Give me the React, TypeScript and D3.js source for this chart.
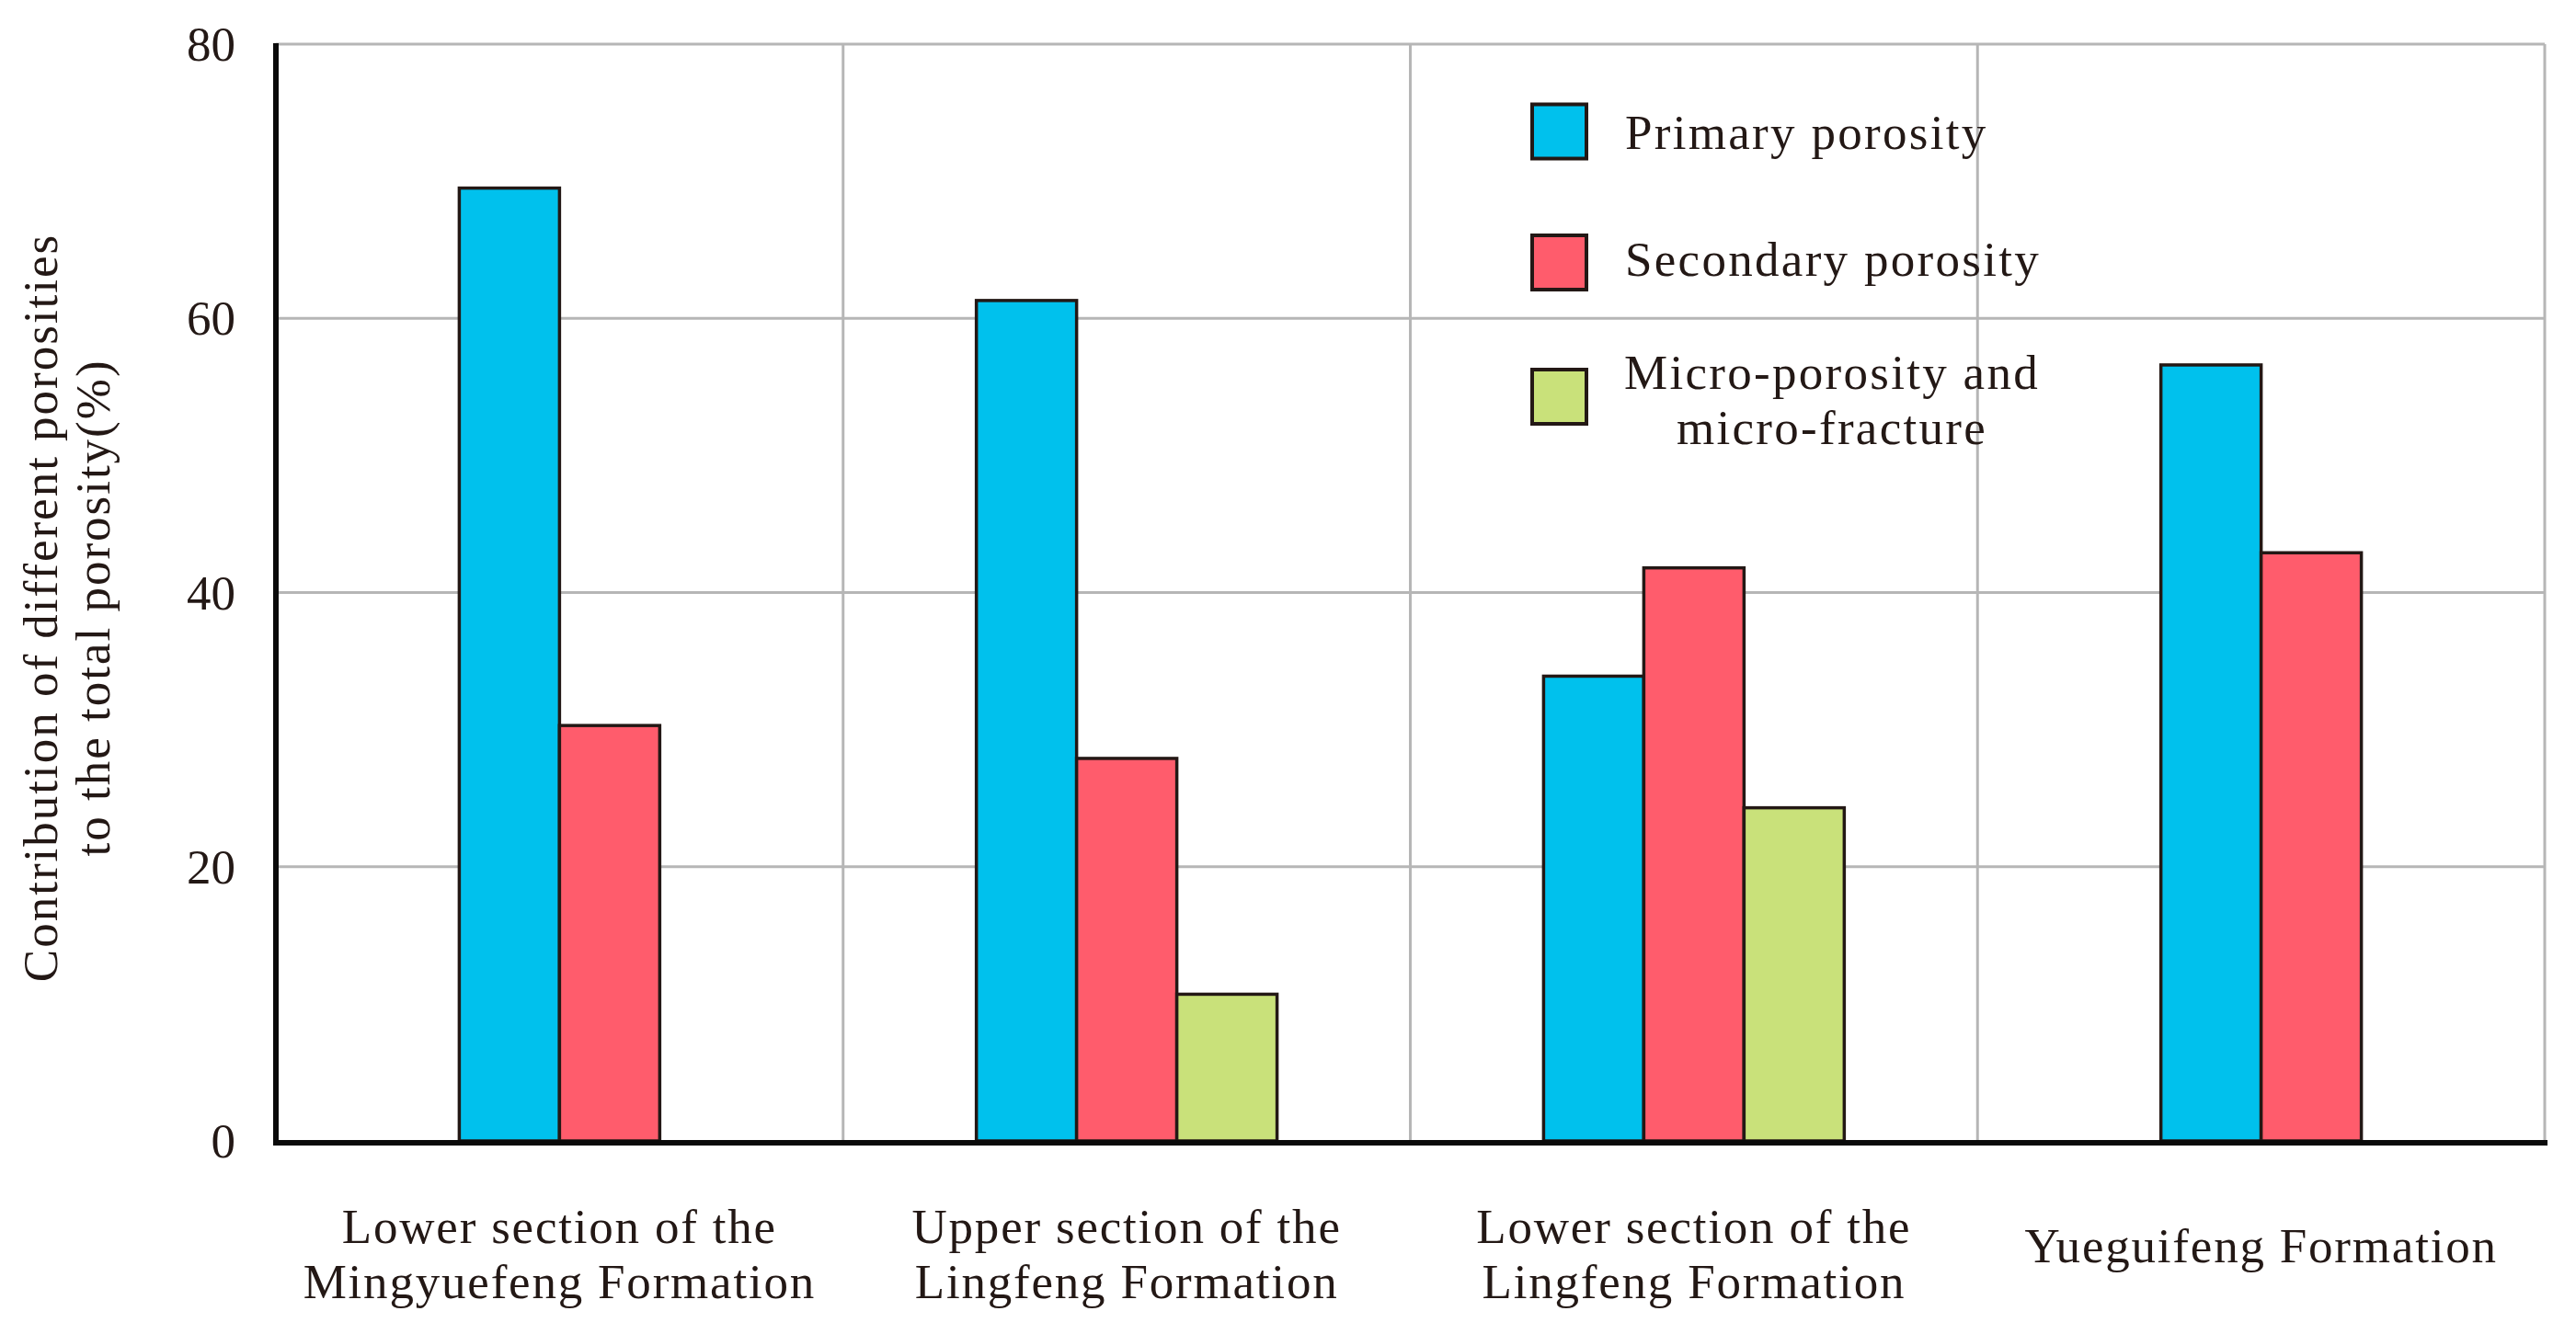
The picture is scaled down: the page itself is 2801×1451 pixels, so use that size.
import React from 'react';
import * as d3 from 'd3';

const categories = [
  'Lower section of the Mingyuefeng Formation',
  'Upper section of the Lingfeng Formation',
  'Lower section of the Lingfeng Formation',
  'Yueguifeng Formation',
];
const categoryLines = [
  ['Lower section of the', 'Mingyuefeng Formation'],
  ['Upper section of the', 'Lingfeng Formation'],
  ['Lower section of the', 'Lingfeng Formation'],
  ['Yueguifeng Formation'],
];
const seriesNames = ['Primary porosity', 'Secondary porosity', 'Micro-porosity and micro-fracture'];
const primary: (number | null)[] = [69.5, 61.3, 33.9, 56.6];
const secondary: (number | null)[] = [30.3, 27.9, 41.8, 42.9];
const micro: (number | null)[] = [null, 10.7, 24.3, null];
const yTicks = [0, 20, 40, 60, 80];
const yTitleLines = ['Contribution of different porosities', 'to the total porosity(%)'];

const W = 2801;
const H = 1451;
const FONT = '"Liberation Serif", "Times New Roman", serif';
const TEXT = '#231815';
const colors = ['#00c1ed', '#ff5c6c', '#c9e17a'];
const GRID = '#b6b6b6';

export default function App() {
  const series = [primary, secondary, micro];
  const x = d3.scaleBand<string>().domain(categories).range([300, 2767]).padding(0);
  const y = d3.scaleLinear().domain([0, 80]).range([1241, 48]);
  const bw = x.bandwidth();
  const barW = bw * 0.1767;

  const bars: { key: string; x: number; y: number; w: number; h: number; fill: string }[] = [];
  categories.forEach((c, i) => {
    const present = series.map((s, k) => ({ v: s[i], k })).filter((d) => d.v != null) as { v: number; k: number }[];
    const start = (x(c) as number) + bw / 2 - (present.length * barW) / 2;
    present.forEach((d, j) => {
      bars.push({
        key: `${i}-${d.k}`,
        x: start + j * barW,
        y: y(d.v),
        w: barW,
        h: y(0) - y(d.v),
        fill: colors[d.k],
      });
    });
  });

  const legendX = 1666;
  const legendSize = 59;
  const legendCenters = [143, 285.5, 431.5];

  return (
    <svg
      width={W}
      height={H}
      viewBox={`0 0 ${W} ${H}`}
      style={{ position: 'absolute', left: 0, top: 0, background: '#fff' }}
      fontFamily={FONT}
    >
      <rect x={0} y={0} width={W} height={H} fill="#fff" />
      {/* horizontal gridlines */}
      {yTicks
        .filter((t) => t > 0)
        .map((t) => (
          <line key={`h${t}`} x1={300} x2={2767} y1={y(t)} y2={y(t)} stroke={GRID} strokeWidth={3} />
        ))}
      {/* vertical gridlines */}
      {categories.map((c) => (
        <line
          key={`v${c}`}
          x1={(x(c) as number) + bw}
          x2={(x(c) as number) + bw}
          y1={y(80)}
          y2={y(0)}
          stroke={GRID}
          strokeWidth={3}
        />
      ))}
      {/* bars */}
      {bars.map((b) => (
        <rect key={b.key} x={b.x} y={b.y} width={b.w} height={b.h} fill={b.fill} stroke={TEXT} strokeWidth={3.5} />
      ))}
      {/* axes */}
      <line x1={300} x2={300} y1={y(80) - 1} y2={y(0) + 5} stroke="#0a0a0a" strokeWidth={6} />
      <line x1={297} x2={2770} y1={y(0) + 2} y2={y(0) + 2} stroke="#0a0a0a" strokeWidth={6} />
      {/* y tick labels */}
      {yTicks.map((t) => (
        <text key={`t${t}`} x={256} y={y(t)} dy="0.34em" textAnchor="end" fontSize={53} fill={TEXT}>
          {t}
        </text>
      ))}
      {/* y title */}
      {yTitleLines.map((line, i) => (
        <text
          key={`yt${i}`}
          transform={`translate(${62 + i * 57},661) rotate(-90)`}
          textAnchor="middle"
          fontSize={53}
          letterSpacing={2}
          fill={TEXT}
        >
          {line}
        </text>
      ))}
      {/* category labels */}
      {categories.map((c, i) => {
        const lines = categoryLines[i];
        const cx = (x(c) as number) + bw / 2;
        const baselines = lines.length === 1 ? [1373] : [1352, 1412];
        return lines.map((ln, j) => (
          <text
            key={`c${i}-${j}`}
            x={cx}
            y={baselines[j]}
            textAnchor="middle"
            fontSize={53}
            letterSpacing={1.8}
            fill={TEXT}
          >
            {ln}
          </text>
        ));
      })}
      {/* legend */}
      {seriesNames.map((name, k) => (
        <rect
          key={`ls${k}`}
          x={legendX}
          y={legendCenters[k] - legendSize / 2}
          width={legendSize}
          height={legendSize}
          fill={colors[k]}
          stroke={TEXT}
          strokeWidth={4}
        />
      ))}
      <text x={1767} y={162} fontSize={53} letterSpacing={2.3} fill={TEXT}>
        {seriesNames[0]}
      </text>
      <text x={1767} y={300} fontSize={53} letterSpacing={2.3} fill={TEXT}>
        {seriesNames[1]}
      </text>
      <text x={1992} y={423} textAnchor="middle" fontSize={53} letterSpacing={2.3} fill={TEXT}>
        Micro-porosity and
      </text>
      <text x={1992} y={483} textAnchor="middle" fontSize={53} letterSpacing={2.3} fill={TEXT}>
        micro-fracture
      </text>
    </svg>
  );
}
